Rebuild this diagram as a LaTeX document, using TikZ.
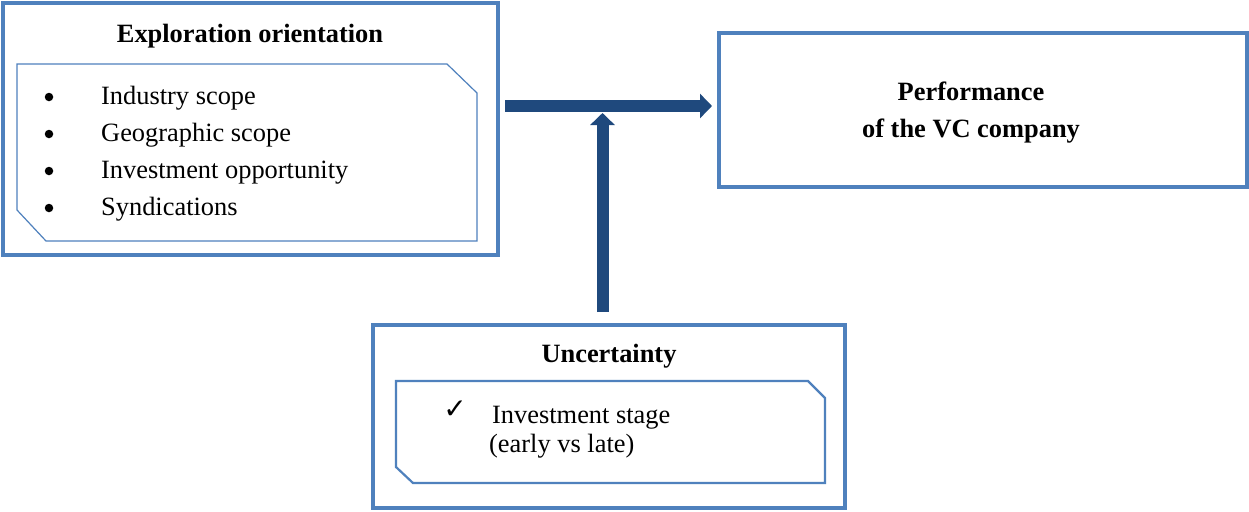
\documentclass[tikz,border=0pt]{standalone}
\usepackage{fontspec}
\setmainfont{Liberation Serif}
\newfontfamily\symfont{DejaVu Sans}
\usetikzlibrary{arrows.meta}
\definecolor{boxblue}{HTML}{4F81BD}
\definecolor{arrowblue}{HTML}{1F497D}
\begin{document}
\begin{tikzpicture}[x=1pt,y=-1pt,
  outerbox/.style={draw=boxblue, line width=4pt, fill=white, inner sep=0pt},
  snipbox/.style={draw=boxblue, line width=1.2pt},
  txt/.style={inner sep=0pt, anchor=base west, font=\fontsize{26.4}{37}\selectfont},
  title/.style={inner sep=0pt, anchor=base, font=\fontsize{26.4}{37}\selectfont\bfseries},
  bulletdot/.style={circle, fill=black, inner sep=0pt, minimum size=8.5pt},
  fatarrow/.style={draw=arrowblue, line width=12pt, -{Triangle[length=12pt,width=24pt]}}]
\useasboundingbox (0,0) rectangle (1249,511);

% outer frames
\node[outerbox, minimum width=495pt, minimum height=252pt] (exp) at (250.5,129) {};
\node[outerbox, minimum width=528pt, minimum height=154pt] (perf) at (983,110) {};
\node[outerbox, minimum width=472pt, minimum height=183pt] (unc) at (609,416.5) {};

% inner snipped panels
\draw[snipbox] (17,64) -- (447,64) -- (477,93) -- (477,241) -- (46,241) -- (17,210) -- cycle;
\draw[snipbox, line width=2.2pt] (396,381) -- (808,381) -- (825,398) -- (825,483) -- (413,483) -- (396,467) -- cycle;

% exploration orientation
\node[title] (exptitle) at (250,42) {Exploration orientation};
\foreach \y/\t [count=\i] in {104/Industry scope, 141/Geographic scope, 178/Investment opportunity, 215/Syndications}{
  \node[bulletdot] (b\i) at (49,\y-7) {};
  \node[txt] (item\i) at (101,\y) {\t};
}

% performance
\node[title] (perf1) at (971,100) {Performance};
\node[title] (perf2) at (971,137) {of the VC company};

% uncertainty
\node[title] (unctitle) at (609,362) {Uncertainty};
\node[inner sep=0pt, anchor=center, font=\symfont\fontsize{28}{30}\selectfont] (chk) at (455,410) {✓};
\node[txt] (stage1) at (492,423) {Investment stage};
\node[txt] (stage2) at (489,452) {(early vs late)};

% connectors
\coordinate (hs) at (505,106);
\coordinate (he) at (712,106);
\coordinate (vs) at (602.5,312);
\coordinate (ve) at (602.5,113);
\draw[fatarrow] (hs) -- (he);
\draw[fatarrow] (vs) -- (ve);
\end{tikzpicture}
\end{document}
